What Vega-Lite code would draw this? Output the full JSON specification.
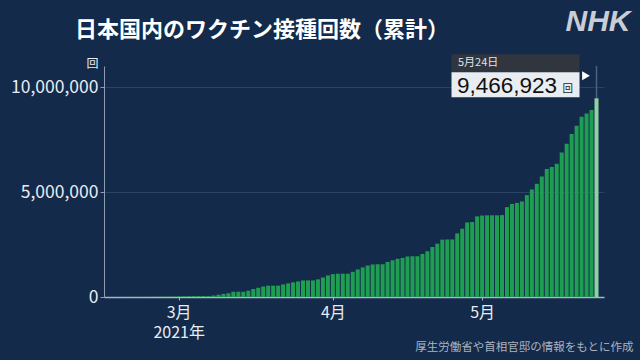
{
  "$schema": "https://vega.github.io/schema/vega-lite/v6.json",
  "autosize": {"type": "none"},
  "width": 500,
  "height": 231,
  "padding": {"left": 104, "top": 66, "right": 36, "bottom": 63},
  "background": "#132a4a",
  "config": {
    "view": {"stroke": null},
    "font": "Noto Sans CJK JP"
  },
  "title": {
    "text": "日本国内のワクチン接種回数（累計）",
    "anchor": "start",
    "frame": "group",
    "dx": -29,
    "dy": 40,
    "fontSize": 22,
    "fontWeight": "bold",
    "font": "Noto Sans CJK JP",
    "color": "#ffffff",
    "offset": 4
  },
  "data": {
    "values": [
      {"date": "2021-02-17", "value": 125},
      {"date": "2021-02-18", "value": 1200},
      {"date": "2021-02-19", "value": 3300},
      {"date": "2021-02-20", "value": 3300},
      {"date": "2021-02-21", "value": 3300},
      {"date": "2021-02-22", "value": 5700},
      {"date": "2021-02-23", "value": 5700},
      {"date": "2021-02-24", "value": 9000},
      {"date": "2021-02-25", "value": 14000},
      {"date": "2021-02-26", "value": 18000},
      {"date": "2021-02-27", "value": 18000},
      {"date": "2021-02-28", "value": 18000},
      {"date": "2021-03-01", "value": 27000},
      {"date": "2021-03-02", "value": 35000},
      {"date": "2021-03-03", "value": 40000},
      {"date": "2021-03-04", "value": 44000},
      {"date": "2021-03-05", "value": 46500},
      {"date": "2021-03-06", "value": 46500},
      {"date": "2021-03-07", "value": 46500},
      {"date": "2021-03-08", "value": 70000},
      {"date": "2021-03-09", "value": 107000},
      {"date": "2021-03-10", "value": 150000},
      {"date": "2021-03-11", "value": 180000},
      {"date": "2021-03-12", "value": 250000},
      {"date": "2021-03-13", "value": 250000},
      {"date": "2021-03-14", "value": 250000},
      {"date": "2021-03-15", "value": 300000},
      {"date": "2021-03-16", "value": 380000},
      {"date": "2021-03-17", "value": 440000},
      {"date": "2021-03-18", "value": 500000},
      {"date": "2021-03-19", "value": 540000},
      {"date": "2021-03-20", "value": 540000},
      {"date": "2021-03-21", "value": 540000},
      {"date": "2021-03-22", "value": 600000},
      {"date": "2021-03-23", "value": 650000},
      {"date": "2021-03-24", "value": 700000},
      {"date": "2021-03-25", "value": 740000},
      {"date": "2021-03-26", "value": 790000},
      {"date": "2021-03-27", "value": 790000},
      {"date": "2021-03-28", "value": 790000},
      {"date": "2021-03-29", "value": 840000},
      {"date": "2021-03-30", "value": 930000},
      {"date": "2021-03-31", "value": 1030000},
      {"date": "2021-04-01", "value": 1090000},
      {"date": "2021-04-02", "value": 1110000},
      {"date": "2021-04-03", "value": 1110000},
      {"date": "2021-04-04", "value": 1110000},
      {"date": "2021-04-05", "value": 1200000},
      {"date": "2021-04-06", "value": 1310000},
      {"date": "2021-04-07", "value": 1410000},
      {"date": "2021-04-08", "value": 1500000},
      {"date": "2021-04-09", "value": 1550000},
      {"date": "2021-04-10", "value": 1560000},
      {"date": "2021-04-11", "value": 1560000},
      {"date": "2021-04-12", "value": 1670000},
      {"date": "2021-04-13", "value": 1750000},
      {"date": "2021-04-14", "value": 1820000},
      {"date": "2021-04-15", "value": 1860000},
      {"date": "2021-04-16", "value": 1930000},
      {"date": "2021-04-17", "value": 1940000},
      {"date": "2021-04-18", "value": 1940000},
      {"date": "2021-04-19", "value": 2050000},
      {"date": "2021-04-20", "value": 2180000},
      {"date": "2021-04-21", "value": 2380000},
      {"date": "2021-04-22", "value": 2540000},
      {"date": "2021-04-23", "value": 2730000},
      {"date": "2021-04-24", "value": 2740000},
      {"date": "2021-04-25", "value": 2740000},
      {"date": "2021-04-26", "value": 3030000},
      {"date": "2021-04-27", "value": 3250000},
      {"date": "2021-04-28", "value": 3550000},
      {"date": "2021-04-29", "value": 3570000},
      {"date": "2021-04-30", "value": 3840000},
      {"date": "2021-05-01", "value": 3880000},
      {"date": "2021-05-02", "value": 3890000},
      {"date": "2021-05-03", "value": 3890000},
      {"date": "2021-05-04", "value": 3890000},
      {"date": "2021-05-05", "value": 3900000},
      {"date": "2021-05-06", "value": 4280000},
      {"date": "2021-05-07", "value": 4430000},
      {"date": "2021-05-08", "value": 4480000},
      {"date": "2021-05-09", "value": 4550000},
      {"date": "2021-05-10", "value": 4850000},
      {"date": "2021-05-11", "value": 5120000},
      {"date": "2021-05-12", "value": 5390000},
      {"date": "2021-05-13", "value": 5740000},
      {"date": "2021-05-14", "value": 6100000},
      {"date": "2021-05-15", "value": 6190000},
      {"date": "2021-05-16", "value": 6350000},
      {"date": "2021-05-17", "value": 6880000},
      {"date": "2021-05-18", "value": 7300000},
      {"date": "2021-05-19", "value": 7760000},
      {"date": "2021-05-20", "value": 8150000},
      {"date": "2021-05-21", "value": 8580000},
      {"date": "2021-05-22", "value": 8740000},
      {"date": "2021-05-23", "value": 8900000},
      {"date": "2021-05-24", "value": 9466923}
    ]
  },
  "resolve": {"axis": {"x": "independent", "y": "independent"}},
  "layer": [
    {
      "mark": {"type": "bar", "width": 4},
      "encoding": {
        "x": {
          "field": "date",
          "type": "temporal",
          "scale": {
            "type": "utc",
            "domain": [
              {"year": 2021, "month": 2, "date": 15, "hours": 0, "utc": true},
              {"year": 2021, "month": 5, "date": 24, "hours": 12, "utc": true}
            ]
          },
          "axis": {
            "values": [
              {"year": 2021, "month": 3, "date": 1, "utc": true},
              {"year": 2021, "month": 4, "date": 1, "utc": true},
              {"year": 2021, "month": 5, "date": 1, "utc": true}
            ],
            "labelExpr": "utcmonth(datum.value) == 2 ? ['3月', '2021年'] : (utcmonth(datum.value) + 1) + '月'",
            "labelFontSize": 16,
            "labelColor": "#e8ecf2",
            "labelPadding": 4,
            "labelLineHeight": 20,
            "labelFont": "Noto Sans CJK JP",
            "tickSize": 3,
            "tickColor": "#a9b5c6",
            "domainColor": "#a9b5c6",
            "domainWidth": 1.5,
            "grid": false,
            "title": "厚生労働省や首相官邸の情報をもとに作成",
            "titleFontSize": 11.5,
            "titleFontWeight": "normal",
            "titleColor": "#aab3c0",
            "titleFont": "Noto Sans CJK JP",
            "titleAnchor": null,
            "titleAlign": "right",
            "titleBaseline": "middle",
            "titleX": 529,
            "titleY": 50
          }
        },
        "y": {
          "field": "value",
          "type": "quantitative",
          "scale": {"domain": [0, 11000000], "nice": false},
          "axis": {
            "values": [0, 5000000, 10000000],
            "format": ",.0f",
            "labelFontSize": 17.5,
            "labelColor": "#e8ecf2",
            "labelFont": "Noto Sans CJK JP",
            "labelPadding": 2,
            "tickSize": 4,
            "tickColor": "#8c9bb2",
            "domainColor": "#8c9bb2",
            "gridColor": "#2a4263",
            "title": "回",
            "titleAngle": 0,
            "titleFontSize": 12,
            "titleFontWeight": "normal",
            "titleColor": "#e8ecf2",
            "titleAnchor": null,
            "titleAlign": "center",
            "titleBaseline": "middle",
            "titleX": -12,
            "titleY": -3
          }
        },
        "color": {
          "condition": {"test": "time(datum.date) == utc(2021, 4, 24)", "value": "#8fd3a4"},
          "value": "#1f9d52"
        }
      }
    },
    {
      "transform": [{"filter": "time(datum.date) == utc(2021, 4, 24)"}],
      "mark": {"type": "rule", "color": "#4c6282", "strokeWidth": 1.5},
      "encoding": {
        "x": {
          "field": "date",
          "type": "temporal",
          "axis": {
            "orient": "top",
            "labels": false,
            "ticks": false,
            "domain": false,
            "grid": false,
            "title": "NHK",
            "titleFont": "Liberation Sans",
            "titleFontStyle": "italic",
            "titleFontWeight": "bold",
            "titleFontSize": 30,
            "titleColor": "#c9ced6",
            "titleAnchor": null,
            "titleAlign": "right",
            "titleBaseline": "middle",
            "titleX": 526,
            "titleY": -45
          }
        },
        "y": {"field": "value", "type": "quantitative", "axis": null},
        "y2": {"datum": 11000000}
      }
    },
    {
      "transform": [{"filter": "time(datum.date) == utc(2021, 4, 24)"}],
      "mark": {"type": "rect", "color": "#30353e", "xOffset": -145, "x2Offset": -17, "yOffset": -44, "y2Offset": -26},
      "encoding": {
        "x": {"field": "date", "type": "temporal", "axis": null},
        "x2": {"field": "date"},
        "y": {"field": "value", "type": "quantitative", "axis": null},
        "y2": {"field": "value"}
      }
    },
    {
      "transform": [{"filter": "time(datum.date) == utc(2021, 4, 24)"}],
      "mark": {"type": "rect", "color": "#e9edf1", "xOffset": -145, "x2Offset": -17, "yOffset": -26, "y2Offset": -1},
      "encoding": {
        "x": {"field": "date", "type": "temporal", "axis": null},
        "x2": {"field": "date"},
        "y": {"field": "value", "type": "quantitative", "axis": null},
        "y2": {"field": "value"}
      }
    },
    {
      "transform": [{"filter": "time(datum.date) == utc(2021, 4, 24)"}],
      "mark": {"type": "point", "shape": "triangle-right", "filled": true, "color": "#ffffff", "opacity": 1, "size": 80, "xOffset": -10.5, "yOffset": -22.5},
      "encoding": {
        "x": {"field": "date", "type": "temporal", "axis": null},
        "y": {"field": "value", "type": "quantitative", "axis": null}
      }
    },
    {
      "transform": [{"filter": "time(datum.date) == utc(2021, 4, 24)"}],
      "mark": {"type": "text", "align": "left", "baseline": "middle", "dx": -138.5, "dy": -35, "fontSize": 11, "color": "#e0e4ea", "font": "Noto Sans CJK JP"},
      "encoding": {
        "x": {"field": "date", "type": "temporal", "axis": null},
        "y": {"field": "value", "type": "quantitative", "axis": null},
        "text": {"field": "date", "type": "temporal", "timeUnit": "utcmonthdate", "format": "%-m月%-d日"}
      }
    },
    {
      "transform": [{"filter": "time(datum.date) == utc(2021, 4, 24)"}],
      "mark": {"type": "text", "align": "left", "baseline": "alphabetic", "dx": -139.5, "dy": -5, "fontSize": 22.5, "color": "#111111", "font": "Liberation Sans"},
      "encoding": {
        "x": {"field": "date", "type": "temporal", "axis": null},
        "y": {"field": "value", "type": "quantitative", "axis": null},
        "text": {"field": "value", "type": "quantitative", "format": ","}
      }
    },
    {
      "transform": [{"filter": "time(datum.date) == utc(2021, 4, 24)"}],
      "mark": {"type": "text", "align": "left", "baseline": "alphabetic", "dx": -34, "dy": -6, "fontSize": 10.5, "color": "#222222", "font": "Noto Sans CJK JP", "text": "回"},
      "encoding": {
        "x": {"field": "date", "type": "temporal", "axis": null},
        "y": {"field": "value", "type": "quantitative", "axis": null}
      }
    }
  ]
}
